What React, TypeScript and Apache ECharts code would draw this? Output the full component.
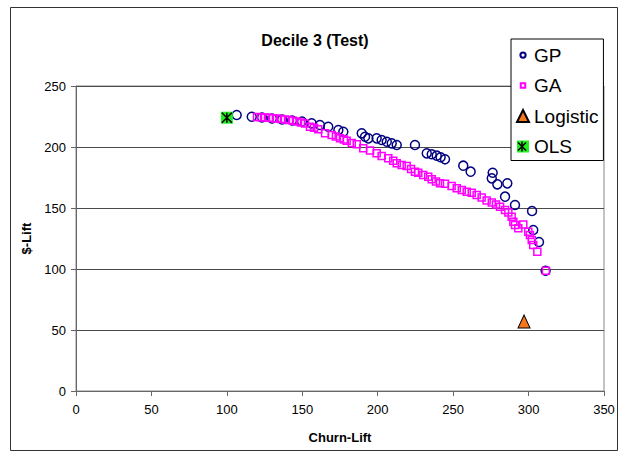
import React, { useEffect, useRef } from "react";
import * as echarts from "echarts";

const FONT = "'Liberation Sans', Arial, sans-serif";

const xTicks = [0, 50, 100, 150, 200, 250, 300, 350];
const yTicks = [0, 50, 100, 150, 200, 250];

const gpX = [106.5, 116.5, 123.3, 129.9, 136.6, 143.2, 149.8, 156.2, 161.7, 167.2, 173.9, 177.2, 189.4, 191.6, 193.8, 199.3, 202.6, 206.0, 209.3, 212.6, 224.7, 232.5, 235.8, 239.1, 241.7, 244.6, 256.7, 261.6, 276.2, 275.6, 279.3, 285.9, 284.4, 291.0, 302.3, 303.1, 306.9, 311.3];
const gpY = [226.2, 224.8, 224.2, 223.4, 222.5, 221.7, 220.9, 219.4, 218.0, 216.6, 213.9, 212.5, 211.2, 208.4, 207.1, 207.1, 205.7, 204.3, 203.0, 201.6, 201.6, 194.8, 194.0, 192.9, 191.6, 189.9, 184.7, 179.8, 178.9, 174.3, 169.4, 170.2, 159.3, 152.5, 147.5, 132.0, 122.1, 98.6];

const gaX = [120.0, 122.6, 125.3, 127.9, 130.6, 133.2, 135.9, 138.5, 141.2, 143.8, 146.5, 149.1, 151.8, 155.1, 157.8, 160.6, 165.1, 169.5, 172.3, 175.0, 177.6, 179.4, 182.8, 186.1, 190.4, 194.9, 199.3, 202.6, 207.0, 210.3, 212.6, 215.9, 219.2, 222.1, 224.7, 226.9, 230.2, 233.5, 235.8, 238.6, 241.3, 244.6, 249.0, 252.4, 255.7, 259.0, 262.3, 265.6, 268.9, 272.2, 275.6, 278.4, 281.1, 284.4, 286.6, 288.8, 289.9, 291.0, 293.2, 296.5, 299.8, 300.9, 302.1, 303.1, 305.8, 311.5];
const gaY = [224.6, 224.4, 224.2, 223.9, 223.6, 223.3, 223.0, 222.5, 222.1, 221.5, 220.9, 220.1, 219.3, 216.6, 215.7, 214.5, 211.2, 209.8, 208.6, 207.1, 206.1, 205.2, 203.3, 202.2, 198.9, 197.1, 194.8, 192.6, 190.7, 188.8, 186.6, 185.2, 184.4, 182.0, 179.8, 178.9, 177.0, 175.7, 173.5, 171.7, 170.2, 169.8, 168.0, 166.1, 164.8, 163.4, 162.5, 160.7, 158.6, 156.1, 154.5, 152.9, 151.1, 148.4, 146.3, 142.9, 138.8, 136.1, 133.4, 136.5, 130.6, 127.9, 123.8, 119.7, 114.2, 98.6];

const logisticX = [297];
const logisticY = [57];
const olsX = [100];
const olsY = [224];

const seriesNames = ["GP", "GA", "Logistic", "OLS"];

const pairs = (xs: number[], ys: number[]) => xs.map((x, i) => [x, ys[i]]);

export default function App() {
  const ref = useRef<HTMLDivElement>(null);
  useEffect(() => {
    if (!ref.current) return;
    const chart = echarts.init(ref.current, undefined, { renderer: "svg" });
    const axisColor = "#666";
    const legLeft = 511;
    const legTop = 39;
    const padTop = 6;
    const rowH = 20;
    const gap = 10.5;
    const iconW = 12;
    const olsCx = legLeft + 5 + iconW / 2;
    const olsCy = legTop + padTop + rowH / 2 + 3 * (rowH + gap);
    const s = 4;
    const starLine = (x1: number, y1: number, x2: number, y2: number) => ({
      type: "line",
      z: 100,
      zlevel: 0,
      shape: { x1, y1, x2, y2 },
      style: { stroke: "#000", lineWidth: 1.5 },
    });
    chart.setOption({
      animation: false,
      backgroundColor: "#fff",
      textStyle: { fontFamily: FONT },
      title: {
        text: "Decile 3 (Test)",
        left: "center",
        top: 27,
        textStyle: { fontFamily: FONT, fontSize: 16, fontWeight: "bold", color: "#000" },
      },
      graphic: [
        {
          type: "rect",
          z: -1,
          shape: { x: 10.5, y: 7.5, width: 607, height: 443 },
          style: { fill: "none", stroke: "#333", lineWidth: 1 },
        },
        starLine(olsCx - s, olsCy - s, olsCx + s, olsCy + s),
        starLine(olsCx + s, olsCy - s, olsCx - s, olsCy + s),
        starLine(olsCx, olsCy - s - 1, olsCx, olsCy + s + 1),
      ],
      legend: {
        orient: "vertical",
        left: legLeft,
        top: legTop,
        padding: [padTop, 5, 4, 5],
        itemGap: gap,
        itemWidth: iconW,
        itemHeight: 12,
        backgroundColor: "#fff",
        borderColor: "#000",
        borderWidth: 1,
        borderRadius: 0,
        textStyle: { fontFamily: FONT, fontSize: 19, color: "#000", lineHeight: rowH },
        data: [
          { name: seriesNames[0], icon: "path://M0,0M16,16M4.5,8a3.5,3.5 0 1,0 7,0a3.5,3.5 0 1,0 -7,0" },
          { name: seriesNames[1], icon: "path://M0,0M16,16M5,5h6v6h-6z" },
          { name: seriesNames[2], icon: "triangle" },
          { name: seriesNames[3], icon: "rect" },
        ],
      },
      grid: {
        left: 76,
        right: 26,
        top: 86,
        bottom: 70,
        show: true,
        borderColor: "#888",
        borderWidth: 1,
        backgroundColor: "transparent",
      },
      xAxis: {
        type: "value",
        min: 0,
        max: 350,
        interval: 50,
        axisLine: { show: true, onZero: false, lineStyle: { color: axisColor, width: 1 } },
        axisTick: { show: true, length: 5, lineStyle: { color: axisColor } },
        axisLabel: { color: "#000", fontSize: 13, fontFamily: FONT, margin: 12 },
        splitLine: { show: false },
        name: "Churn-Lift",
        nameLocation: "middle",
        nameGap: 40,
        nameTextStyle: { fontFamily: FONT, fontWeight: "bold", fontSize: 13, color: "#000" },
      },
      yAxis: {
        type: "value",
        min: 0,
        max: 250,
        interval: 50,
        axisLine: { show: true, onZero: false, lineStyle: { color: axisColor, width: 1 } },
        axisTick: { show: true, length: 5, lineStyle: { color: axisColor } },
        axisLabel: { color: "#000", fontSize: 13, fontFamily: FONT, margin: 10 },
        splitLine: { show: true, lineStyle: { color: "#4a4a4a", width: 1 } },
        name: "$-Lift",
        nameLocation: "middle",
        nameGap: 40,
        nameTextStyle: { fontFamily: FONT, fontWeight: "bold", fontSize: 13, color: "#000" },
      },
      series: [
        {
          name: seriesNames[0],
          type: "scatter",
          symbol: "circle",
          symbolSize: 9,
          data: pairs(gpX, gpY),
          itemStyle: { color: "rgba(255,255,255,0)", borderColor: "#000080", borderWidth: 1.5, opacity: 1 },
        },
        {
          name: seriesNames[1],
          type: "scatter",
          symbol: "rect",
          symbolSize: 7,
          data: pairs(gaX, gaY),
          itemStyle: { color: "rgba(255,255,255,0)", borderColor: "#FF00FF", borderWidth: 1.5, opacity: 1 },
        },
        {
          name: seriesNames[2],
          type: "scatter",
          symbol: "triangle",
          symbolSize: [12, 13],
          data: pairs(logisticX, logisticY),
          itemStyle: { color: "#F7761B", borderColor: "#000", borderWidth: 1, opacity: 1 },
        },
        {
          name: seriesNames[3],
          type: "scatter",
          symbol: "rect",
          symbolSize: 12,
          data: pairs(olsX, olsY),
          itemStyle: { color: "#22EE22", opacity: 1 },
        },
        {
          name: "OLS-star",
          type: "scatter",
          symbol: "path://M0,0L10,10M10,0L0,10M5,0L5,10",
          symbolSize: 10,
          data: pairs(olsX, olsY),
          itemStyle: { color: "rgba(0,0,0,0)", borderColor: "#000", borderWidth: 1.5, opacity: 1 },
          z: 3,
        },
      ],
    });
    return () => chart.dispose();
  }, []);
  return <div ref={ref} style={{ position: "absolute", left: 0, top: 0, width: 630, height: 461 }} />;
}
